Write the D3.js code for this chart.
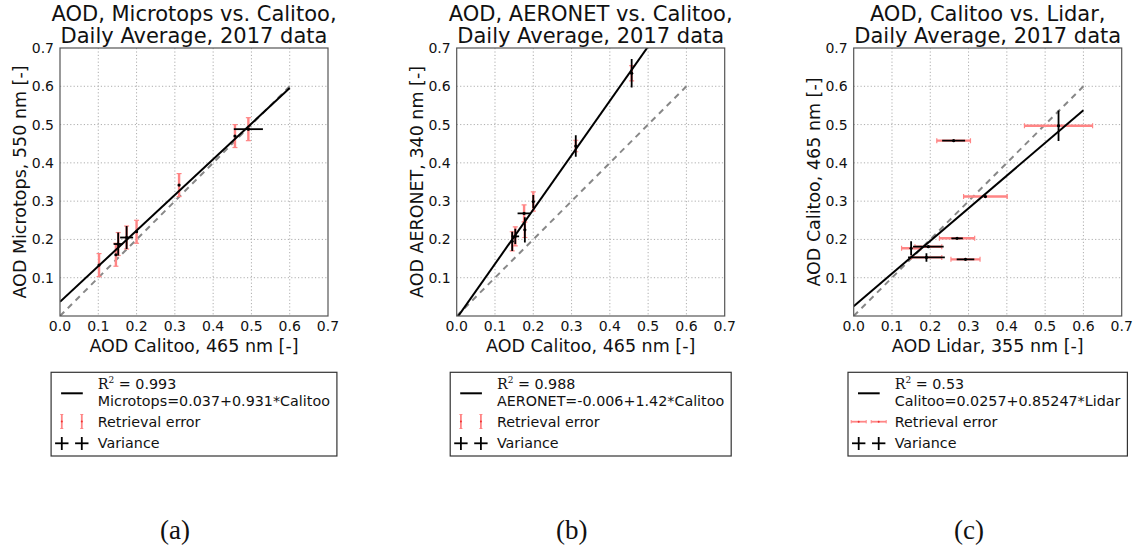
<!DOCTYPE html>
<html><head><meta charset="utf-8">
<script src="https://cdn.jsdelivr.net/npm/d3@7"></script>
<style>
body{margin:0;background:#fff;}
text{font-family:"DejaVu Sans",sans-serif;fill:#111;}
</style></head>
<body><svg id="c" width="1137" height="548"></svg>
<script>
// ---------- data ----------
const xTicks = [0.0, 0.1, 0.2, 0.3, 0.4, 0.5, 0.6, 0.7];
const yTicks = [0.1, 0.2, 0.3, 0.4, 0.5, 0.6, 0.7];

// (a) Microtops vs Calitoo
const aX    = [0.102, 0.146, 0.152, 0.174, 0.200, 0.311, 0.457, 0.492];
const aY    = [0.133, 0.160, 0.188, 0.205, 0.220, 0.342, 0.470, 0.488];
const aErr  = [0.030, 0.030, 0.030, 0.030, 0.030, 0.030, 0.030, 0.030];
const aVarX = [0.000, 0.000, 0.012, 0.017, 0.000, 0.000, 0.000, 0.038];
const aVarY = [0.000, 0.000, 0.030, 0.030, 0.000, 0.000, 0.000, 0.003];

// (b) AERONET vs Calitoo
const bX    = [0.145, 0.153, 0.176, 0.178, 0.200, 0.311, 0.457];
const bY    = [0.195, 0.208, 0.268, 0.225, 0.299, 0.444, 0.634];
const bErr  = [0.025, 0.025, 0.022, 0.020, 0.025, 0.015, 0.020];
const bVarX = [0.000, 0.010, 0.017, 0.000, 0.000, 0.000, 0.000];
const bVarY = [0.025, 0.020, 0.000, 0.033, 0.017, 0.028, 0.037];

// (c) Calitoo vs Lidar (retrieval error on x)
const cX    = [0.150, 0.190, 0.195, 0.261, 0.270, 0.292, 0.344, 0.535];
const cY    = [0.177, 0.153, 0.181, 0.458, 0.203, 0.148, 0.312, 0.497];
const cErr  = [0.025, 0.040, 0.035, 0.044, 0.046, 0.038, 0.057, 0.089];
const cVarX = [0.000, 0.048, 0.040, 0.030, 0.015, 0.023, 0.003, 0.000];
const cVarY = [0.018, 0.011, 0.000, 0.000, 0.000, 0.000, 0.000, 0.040];

const fitIntercepts = [0.037, -0.006, 0.0257];
const fitSlopes     = [0.931, 1.42, 0.85247];
const r2Values      = ["0.993", "0.988", "0.53"];
const fitLabels     = ["Microtops=0.037+0.931*Calitoo", "AERONET=-0.006+1.42*Calitoo", "Calitoo=0.0257+0.85247*Lidar"];
const titles1       = ["AOD, Microtops vs. Calitoo,", "AOD, AERONET vs. Calitoo,", "AOD, Calitoo vs. Lidar,"];
const titles2       = ["Daily Average, 2017 data", "Daily Average, 2017 data", "Daily Average, 2017 data"];
const xLabels       = ["AOD Calitoo, 465 nm [-]", "AOD Calitoo, 465 nm [-]", "AOD Lidar, 355 nm [-]"];
const yLabels       = ["AOD Microtops, 550 nm [-]", "AOD AERONET, 340 nm [-]", "AOD Calitoo, 465 nm [-]"];
const captions      = ["(a)", "(b)", "(c)"];
const legendErr     = "Retrieval error";
const legendVar     = "Variance";

// ---------- layout ----------
const svg = d3.select("#c");
const plotLefts = [60, 456.7, 853.7];
const plotTop = 48, size = 268;
const RED = "#ff8585";
const LEG_FS = 14.3;

const panels = [
  {x:aX,y:aY,err:aErr,vx:aVarX,vy:aVarY,errDir:"y"},
  {x:bX,y:bY,err:bErr,vx:bVarX,vy:bVarY,errDir:"y"},
  {x:cX,y:cY,err:cErr,vx:cVarX,vy:cVarY,errDir:"x"}
];

panels.forEach((p,i)=>{
  const L = plotLefts[i];
  const xs = d3.scaleLinear().domain([0,0.7]).range([L, L+size]);
  const ys = d3.scaleLinear().domain([0,0.7]).range([plotTop+size, plotTop]);
  const g = svg.append("g");
  const cx = L + size/2;

  const cid = "clip"+i;
  svg.append("clipPath").attr("id",cid).append("rect")
     .attr("x",L).attr("y",plotTop).attr("width",size).attr("height",size);

  // grid
  const grid = g.append("g");
  xTicks.slice(1,-1).forEach(t=>{
    grid.append("line").attr("x1",xs(t)).attr("x2",xs(t)).attr("y1",plotTop).attr("y2",plotTop+size)
      .attr("stroke","#999").attr("stroke-width",0.8).attr("stroke-dasharray","1.2,2.2");
  });
  yTicks.slice(0,-1).forEach(t=>{
    grid.append("line").attr("y1",ys(t)).attr("y2",ys(t)).attr("x1",L).attr("x2",L+size)
      .attr("stroke","#999").attr("stroke-width",0.8).attr("stroke-dasharray","1.2,2.2");
  });

  const inner = g.append("g").attr("clip-path",`url(#${cid})`);

  inner.append("line").attr("x1",xs(0)).attr("y1",ys(0)).attr("x2",xs(0.6)).attr("y2",ys(0.6))
    .attr("stroke","#888").attr("stroke-width",2).attr("stroke-dasharray","6,5");

  // retrieval error (red)
  p.x.forEach((xv,k)=>{
    const e = p.err[k], yv = p.y[k];
    if(p.errDir==="y"){
      inner.append("line").attr("x1",xs(xv)).attr("x2",xs(xv)).attr("y1",ys(yv-e)).attr("y2",ys(yv+e))
        .attr("stroke",RED).attr("stroke-width",2.4);
      [yv-e,yv+e].forEach(v=>inner.append("line").attr("x1",xs(xv)-2.5).attr("x2",xs(xv)+2.5)
        .attr("y1",ys(v)).attr("y2",ys(v)).attr("stroke",RED).attr("stroke-width",1.2));
    } else {
      inner.append("line").attr("y1",ys(yv)).attr("y2",ys(yv)).attr("x1",xs(xv-e)).attr("x2",xs(xv+e))
        .attr("stroke",RED).attr("stroke-width",2.4);
      [xv-e,xv+e].forEach(v=>inner.append("line").attr("y1",ys(yv)-2.5).attr("y2",ys(yv)+2.5)
        .attr("x1",xs(v)).attr("x2",xs(v)).attr("stroke",RED).attr("stroke-width",1.2));
    }
  });

  // variance (black)
  p.x.forEach((xv,k)=>{
    const yv = p.y[k], vx = p.vx[k], vy = p.vy[k];
    if(vx>0) inner.append("line").attr("x1",xs(xv-vx)).attr("x2",xs(xv+vx)).attr("y1",ys(yv)).attr("y2",ys(yv))
      .attr("stroke","#000").attr("stroke-width",1.8);
    if(vy>0) inner.append("line").attr("x1",xs(xv)).attr("x2",xs(xv)).attr("y1",ys(yv-vy)).attr("y2",ys(yv+vy))
      .attr("stroke","#000").attr("stroke-width",1.8);
    inner.append("circle").attr("cx",xs(xv)).attr("cy",ys(yv)).attr("r",1.6).attr("fill","#000");
  });

  // fit line
  const a0 = fitIntercepts[i], a1 = fitSlopes[i];
  inner.append("line").attr("x1",xs(0)).attr("y1",ys(a0)).attr("x2",xs(0.6)).attr("y2",ys(a0+a1*0.6))
    .attr("stroke","#000").attr("stroke-width",2);

  // frame
  g.append("rect").attr("x",L).attr("y",plotTop).attr("width",size).attr("height",size)
    .attr("fill","none").attr("stroke","#555").attr("stroke-width",1.2);

  // tick labels
  xTicks.forEach(t=>g.append("text").attr("x",xs(t)).attr("y",plotTop+size+15).attr("text-anchor","middle")
    .attr("font-size",14).text(t.toFixed(1)));
  yTicks.forEach(t=>g.append("text").attr("x",L-6).attr("y",ys(t)+5).attr("text-anchor","end")
    .attr("font-size",14).text(t.toFixed(1)));

  // axis labels
  g.append("text").attr("x",cx).attr("y",plotTop+size+36).attr("text-anchor","middle").attr("font-size",17.5).text(xLabels[i]);
  g.append("text").attr("transform",`translate(${L-34},${plotTop+size/2}) rotate(-90)`).attr("text-anchor","middle")
    .attr("font-size",17.5).text(yLabels[i]);

  // titles
  g.append("text").attr("x",cx).attr("y",21).attr("text-anchor","middle").attr("font-size",21).text(titles1[i]);
  g.append("text").attr("x",cx).attr("y",43).attr("text-anchor","middle").attr("font-size",21).text(titles2[i]);

  // legend
  const lg = g.append("g");
  const t1 = lg.append("text").attr("y",389).attr("font-size",LEG_FS);
  t1.append("tspan").attr("font-family","DejaVu Serif, serif").text("R");
  t1.append("tspan").attr("font-family","DejaVu Serif, serif").attr("font-size",9).attr("dy",-6).text("2");
  t1.append("tspan").attr("dy",6).text(" = "+r2Values[i]);
  const t2 = lg.append("text").attr("y",405.7).attr("font-size",LEG_FS).text(fitLabels[i]);
  const t3 = lg.append("text").attr("y",427.3).attr("font-size",LEG_FS).text(legendErr);
  const t4 = lg.append("text").attr("y",447.7).attr("font-size",LEG_FS).text(legendVar);
  const tw = Math.max(t1.node().getComputedTextLength(), t2.node().getComputedTextLength());
  const boxW = 46.7 + tw + 7;
  const bx = cx - boxW/2;
  [t1,t2,t3,t4].forEach(t=>t.attr("x",bx+46.7));
  lg.insert("rect",":first-child").attr("x",bx).attr("y",372.3).attr("width",boxW).attr("height",83.7)
    .attr("fill","#fff").attr("stroke","#333").attr("stroke-width",1.2);
  lg.append("line").attr("x1",bx+10).attr("x2",bx+31.7).attr("y1",393.3).attr("y2",393.3).attr("stroke","#000").attr("stroke-width",2);
  [bx+10.7, bx+30.7].forEach(hx=>{
    if(p.errDir==="y"){
      lg.append("line").attr("x1",hx).attr("x2",hx).attr("y1",414.5).attr("y2",428.5).attr("stroke",RED).attr("stroke-width",1.8);
      [414.5,428.5].forEach(v=>lg.append("line").attr("x1",hx-1.5).attr("x2",hx+1.5).attr("y1",v).attr("y2",v).attr("stroke",RED).attr("stroke-width",1));
      lg.append("circle").attr("cx",hx).attr("cy",421.5).attr("r",1).attr("fill","#e33");
    } else {
      lg.append("line").attr("x1",hx-7.5).attr("x2",hx+7.5).attr("y1",421.7).attr("y2",421.7).attr("stroke",RED).attr("stroke-width",1.8);
      [hx-7.5,hx+7.5].forEach(v=>lg.append("line").attr("x1",v).attr("x2",v).attr("y1",420).attr("y2",423.4).attr("stroke",RED).attr("stroke-width",1));
      lg.append("circle").attr("cx",hx).attr("cy",421.7).attr("r",1).attr("fill","#e33");
    }
    lg.append("line").attr("x1",hx-6.7).attr("x2",hx+6.7).attr("y1",443.3).attr("y2",443.3).attr("stroke","#000").attr("stroke-width",1.8);
    lg.append("line").attr("x1",hx).attr("x2",hx).attr("y1",437).attr("y2",450).attr("stroke","#000").attr("stroke-width",1.8);
  });

  // caption
  svg.append("text").attr("x",[175,571.7,969][i]).attr("y",539).attr("text-anchor","middle")
    .style("font-family","'Liberation Serif', serif").attr("font-size",27).text(captions[i]);
});
</script></body></html>
